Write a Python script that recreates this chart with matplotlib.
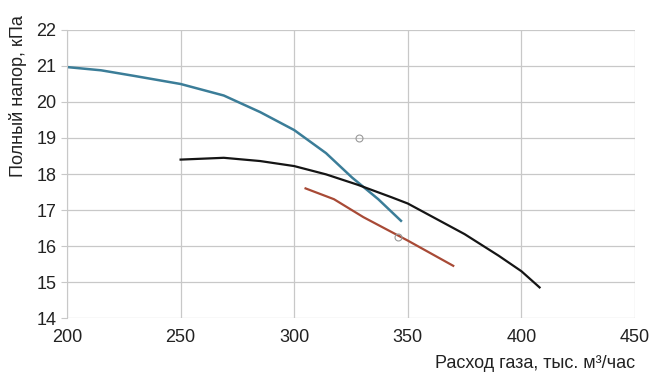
import matplotlib
matplotlib.use('Agg')
import matplotlib.pyplot as plt
from matplotlib import font_manager

# curves
blue_x = [200, 215, 230, 250, 269, 285, 300, 314, 325.5, 337, 347]
blue_y = [20.97, 20.88, 20.72, 20.5, 20.18, 19.72, 19.22, 18.58, 17.9, 17.3, 16.7]

black_x = [250, 269, 285, 300, 314, 328, 343, 350, 375, 390, 400, 408]
black_y = [18.4, 18.45, 18.36, 18.22, 17.99, 17.7, 17.35, 17.18, 16.33, 15.73, 15.3, 14.85]

red_x = [305, 317.5, 330.5, 350, 370]
red_y = [17.6, 17.3, 16.8, 16.15, 15.45]

circle_x = [328.5, 345.7]
circle_y = [19.0, 16.25]

x_ticks = [200, 250, 300, 350, 400, 450]
y_ticks = [14, 15, 16, 17, 18, 19, 20, 21, 22]

names = {f.name for f in font_manager.fontManager.ttflist}
family = ['Liberation Sans Narrow'] if 'Liberation Sans Narrow' in names else ['Liberation Sans']
plt.rcParams['font.family'] = family + ['DejaVu Sans']

fig = plt.figure(figsize=(6.57, 3.82), dpi=100)
ax = fig.add_axes([0.102, 0.1675, 0.8645, 0.754])

ax.plot(blue_x, blue_y, color='#3b7d98', lw=1.8, solid_joinstyle='round')
ax.plot(black_x, black_y, color='#151515', lw=1.6, solid_joinstyle='round')
ax.plot(red_x, red_y, color='#a84a36', lw=1.6, solid_joinstyle='round')
ax.plot(circle_x, circle_y, 'o', ms=5, mfc='none', mec='#999999', mew=0.8)

ax.set_xlim(200, 450)
ax.set_ylim(14, 22)
ax.set_xticks(x_ticks)
ax.set_yticks(y_ticks)
ax.grid(True, color='#c8c8c8', lw=0.9)
ax.set_axisbelow(True)
for s in ax.spines.values():
    s.set_visible(False)
ax.spines['left'].set_visible(True)
ax.spines['left'].set_color('#c8c8c8')
ax.tick_params(axis='both', labelsize=13, colors='#c8c8c8', labelcolor='#222222', length=4)
ax.tick_params(axis='x', length=0, pad=8)

fig.text(0.9665, 0.025, 'Расход газа, тыс. м³/час', ha='right', va='bottom',
         fontsize=13, color='#222222')
fig.text(0.028, 0.96, 'Полный напор, кПа', rotation=90, ha='center', va='top',
         fontsize=13, color='#222222')

fig.savefig('out.png', dpi=100)
